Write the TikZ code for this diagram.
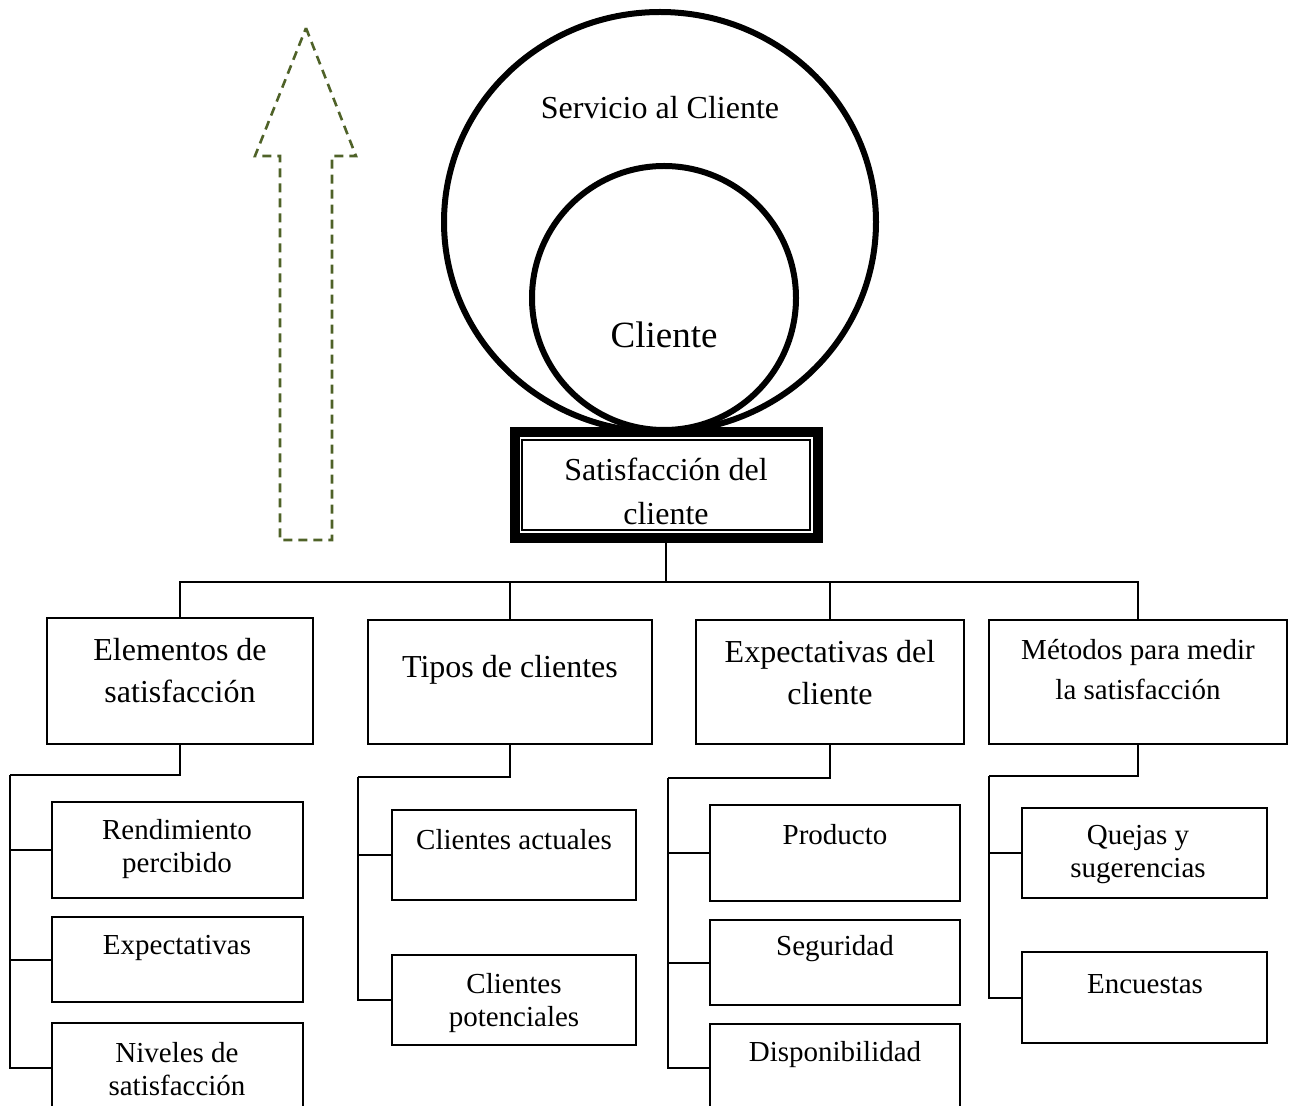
\documentclass[tikz,border=0pt]{standalone}
\usepackage{fontspec}
\setmainfont{Liberation Serif}
\usetikzlibrary{shapes.geometric}
\definecolor{oliva}{HTML}{4F6228}
\begin{document}
\begin{tikzpicture}[x=0.5pt,y=-0.5pt]
		% Estilos
		\tikzstyle{conector}=[-,line width=1pt]
		\tikzstyle{caja}=[draw,line width=1pt,inner sep=0pt,fill=white]
		\tikzstyle{circulo}=[draw,line width=3pt,inner sep=0pt]
		\tikzstyle{texto}=[align=center,inner sep=0pt,font=\fontsize{16}{21}\selectfont]
		\tikzstyle{textohoja}=[align=center,inner sep=0pt,font=\fontsize{14.5}{16.5}\selectfont]
		\tikzstyle{flecha}=[draw=oliva,line width=1.3pt,dash pattern=on 4.5pt off 3pt]
		% Marco de la figura
		\useasboundingbox (0,0) rectangle (1296,1106);
		% Flecha punteada
		\draw[flecha] (306,28) -- (356,156) -- (332,156) -- (332,540) -- (280,540) -- (280,156) -- (255,156) -- cycle;
		% Circulos
		\node[circulo,ellipse,minimum width=216pt,minimum height=210pt] (servicio) at (660,222) {};
		\node[circulo,circle,minimum size=132pt] (cliente) at (664,298) {};
		\node[texto] (tServicio) at (660,108) {Servicio al Cliente};
		\node[texto,font=\fontsize{18.5}{22}\selectfont] (tCliente) at (664,335) {Cliente};
		% Nodo central
		\node[draw,line width=5pt,fill=white,inner sep=0pt,minimum width=151.5pt,minimum height=53pt] (satisf) at (666,485) {};
		\node[draw,line width=0.75pt,inner sep=0pt,minimum width=144pt,minimum height=45pt] (satisfint) at (satisf.center) {};
		\node[texto,font=\fontsize{16}{22}\selectfont] (tSatisf) at (666,491) {Satisfacción del\\cliente};
		% Nivel 2
		\node[caja,minimum width=133pt,minimum height=63pt] (elem) at (180,681) {};
		\node[caja,minimum width=142pt,minimum height=62pt] (tipos) at (510,682) {};
		\node[caja,minimum width=134pt,minimum height=62pt] (expec) at (830,682) {};
		\node[caja,minimum width=149pt,minimum height=62pt] (metod) at (1138,682) {};
		\node[texto] (tElem) at (180,671) {Elementos de\\satisfacción};
		\node[texto] (tTipos) at (510,670) {Tipos de clientes};
		\node[texto] (tExpec) at (830,673) {Expectativas del\\cliente};
		\node[texto,font=\fontsize{14.5}{20}\selectfont] (tMetod) at (1138,670) {Métodos para medir\\la satisfacción};
		% Nivel 3
		\node[caja,minimum width=125.5pt,minimum height=48pt] (rend) at (177.5,850) {};
		\node[caja,minimum width=125.5pt,minimum height=42.5pt] (expt) at (177.5,959.5) {};
		\node[caja,minimum width=125.5pt,minimum height=44.5pt] (nive) at (177.5,1067.5) {};
		\node[caja,minimum width=122pt,minimum height=45pt] (actu) at (514,855) {};
		\node[caja,minimum width=122pt,minimum height=45pt] (pote) at (514,1000) {};
		\node[caja,minimum width=125pt,minimum height=48pt] (prod) at (835,853) {};
		\node[caja,minimum width=125pt,minimum height=42.5pt] (segu) at (835,962.5) {};
		\node[caja,minimum width=125pt,minimum height=44pt] (disp) at (835,1068) {};
		\node[caja,minimum width=122.5pt,minimum height=45pt] (quej) at (1144.5,853) {};
		\node[caja,minimum width=122.5pt,minimum height=45.5pt] (encu) at (1144.5,997.5) {};
		\node[textohoja] (tRend) at (177,849) {Rendimiento\\percibido};
		\node[textohoja] (tExpt) at (177,948) {Expectativas};
		\node[textohoja] (tNive) at (177,1069) {Niveles de\\satisfacción};
		\node[textohoja] (tActu) at (514,840) {Clientes actuales};
		\node[textohoja] (tPote) at (514,1003) {Clientes\\potenciales};
		\node[textohoja] (tProd) at (835,835) {Producto};
		\node[textohoja] (tSegu) at (835,949) {Seguridad};
		\node[textohoja] (tDisp) at (835,1055) {Disponibilidad};
		\node[textohoja] (tQuej) at (1138,855) {Quejas y\\sugerencias};
		\node[textohoja] (tEncu) at (1145,984) {Encuestas};
		% Conectores
		\path (satisf.south) ++(0,39) coordinate (bus);
		\draw[conector] (satisf.south) -- (bus);
		\foreach \n in {elem,tipos,expec,metod}
			\draw[conector] (bus) -| (\n.north);
		\coordinate (codoE) at (10,775);
		\coordinate (codoT) at (358,777);
		\coordinate (codoX) at (668,778);
		\coordinate (codoM) at (989,776);
		\draw[conector] (elem.south) |- (codoE);
		\draw[conector] (tipos.south) |- (codoT);
		\draw[conector] (expec.south) |- (codoX);
		\draw[conector] (metod.south) |- (codoM);
		\foreach \n in {rend,expt,nive}
			\draw[conector] (codoE) |- (\n.west);
		\foreach \n in {actu,pote}
			\draw[conector] (codoT) |- (\n.west);
		\foreach \n in {prod,segu,disp}
			\draw[conector] (codoX) |- (\n.west);
		\foreach \n in {quej,encu}
			\draw[conector] (codoM) |- (\n.west);
	\end{tikzpicture}
\end{document}
